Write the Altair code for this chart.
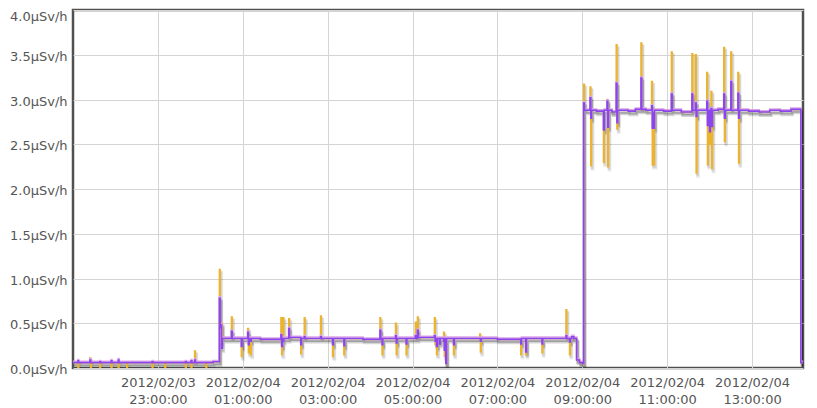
import altair as alt
import pandas as pd

# minutes after 2012-02-03 21:00 (UTC-naive display time)
minutes = [
    0, 7, 8, 24, 25, 26, 38, 39, 54, 55, 64, 65, 76, 77, 112, 113, 130, 131,
    159, 160, 167, 168, 172, 173, 188, 189, 198,
    207, 208, 209, 210, 211,
    224, 225, 238, 239, 247, 248, 249, 251, 252, 265,
    294, 295, 296, 297, 298, 305, 306, 322, 323, 327, 328, 350, 351,
    367, 368, 383, 384, 410, 434, 435, 437, 438, 456, 457, 458, 471, 472,
    484, 485, 487, 488, 511, 512, 513, 514, 515, 518, 519, 524, 525, 526,
    527, 528, 538, 539, 575, 576, 577, 600, 633, 634, 640, 641, 663, 664,
    697, 698, 702, 703, 705, 708, 712, 716, 720,
    722, 723, 731, 732, 733, 740, 750, 751, 755, 756, 757, 762,
    768, 769, 770, 785, 795, 803, 804, 810,
    818, 819, 820, 821, 822, 835, 846, 847, 860, 875, 876, 880, 881, 882,
    896, 897, 898, 900, 901, 902, 903, 904, 912, 920, 921, 922, 930, 931,
    940, 941, 942, 955, 970, 985, 1000, 1015, 1029, 1032,
]

purple = [
    .06, .08, .06, .09, .06, .06, .07, .06, .08, .06, .09, .06, .06, .06, .07, .06, .06, .06,
    .07, .06, .08, .06, .09, .06, .06, .06, .07,
    .78, .45, .48, .22, .33,
    .41, .33, .24, .33, .40, .26, .33, .30, .33, .32,
    .37, .24, .33, .30, .33, .44, .34, .26, .33, .35, .33, .35, .33,
    .26, .33, .25, .33, .32, .42, .33, .26, .33, .36, .28, .33, .27, .33,
    .36, .33, .42, .34, .36, .30, .33, .24, .33, .27, .33, .30, .20, .33,
    .05, .33, .26, .33, .33, .30, .33, .32, .27, .33, .18, .33, .27, .33,
    .36, .33, .29, .33, .35, .33, .09, .06, .05,
    2.96, 2.88, 3.02, 2.79, 2.88, 2.87, 2.66, 2.88, 2.98, 2.69, 2.88, 2.86,
    3.18, 2.74, 2.88, 2.87, 2.89, 3.24, 2.89, 2.88,
    2.93, 2.68, 2.85, 2.68, 2.88, 2.87, 3.06, 2.88, 2.86, 3.06, 2.88, 2.96, 2.81, 2.88,
    2.98, 2.71, 2.88, 2.64, 2.88, 2.90, 2.70, 2.88, 2.89, 3.06, 2.79, 2.88, 3.20, 2.88,
    3.07, 2.79, 2.88, 2.87, 2.86, 2.88, 2.87, 2.89, .06, .06,
]

orange = [
    .06, .00, .06, .11, .00, .06, .00, .06, .00, .06, .00, .06, .00, .06, .00, .06, .00, .06,
    .00, .06, .00, .06, .19, .06, .00, .06, .07,
    1.10, .35, .28, .50, .33,
    .57, .33, .13, .33, .44, .17, .33, .15, .33, .32,
    .56, .15, .33, .56, .33, .55, .34, .16, .33, .56, .33, .58, .33,
    .13, .33, .15, .33, .32, .56, .33, .15, .33, .50, .15, .33, .15, .33,
    .51, .33, .57, .34, .56, .26, .33, .15, .33, .30, .33, .40, .13, .33,
    .05, .33, .15, .33, .38, .18, .33, .32, .15, .33, .15, .33, .17, .33,
    .65, .33, .15, .33, .35, .33, .09, .06, .05,
    3.17, 2.88, 3.14, 2.26, 2.88, 2.87, 2.30, 2.88, 3.00, 2.25, 2.88, 2.86,
    3.61, 2.67, 2.88, 2.87, 2.89, 3.63, 2.89, 2.88,
    3.20, 2.27, 2.85, 2.27, 2.88, 2.87, 3.53, 2.88, 2.86, 3.51, 2.88, 3.50, 2.18, 2.88,
    3.30, 2.27, 2.88, 2.50, 2.88, 3.09, 2.23, 2.88, 2.89, 3.58, 2.53, 2.88, 3.53, 2.88,
    3.30, 2.29, 2.88, 2.87, 2.86, 2.88, 2.87, 2.89, .06, .06,
]

x_ticks = [
    "2012-02-03T23:00:00Z", "2012-02-04T01:00:00Z", "2012-02-04T03:00:00Z",
    "2012-02-04T05:00:00Z", "2012-02-04T07:00:00Z", "2012-02-04T09:00:00Z",
    "2012-02-04T11:00:00Z", "2012-02-04T13:00:00Z",
]
y_ticks = [0.0, 0.5, 1.0, 1.5, 2.0, 2.5, 3.0, 3.5, 4.0]
x_start = "2012-02-03T21:00:00Z"
x_end = "2012-02-04T14:12:00Z"

start = pd.Timestamp(x_start)
times = [(start + pd.Timedelta(minutes=m)).strftime("%Y-%m-%dT%H:%M:%SZ") for m in minutes]
df = pd.DataFrame({"time": times, "purple": purple, "orange": orange})

def ms(s):
    return int(pd.Timestamp(s).value // 10**6)

xscale = alt.Scale(type="utc", domain=[ms(x_start), ms(x_end)])
yscale = alt.Scale(domain=[0, 4])

FONT = "DejaVu Sans"
xaxis = alt.Axis(
    values=[ms(t) for t in x_ticks],
    labelExpr="[utcFormat(datum.value, '%Y/%m/%d'), utcFormat(datum.value, '%H:%M:%S')]",
    title=None, ticks=False, domain=False, grid=True, gridColor="#d4d4d4",
    labelFont=FONT, labelFontSize=13, labelColor="#555555", labelPadding=8,
    labelLineHeight=17, labelFlush=False, labelOverlap=False,
)
yaxis = alt.Axis(
    values=y_ticks,
    labelExpr="format(datum.value, '.1f') + 'µSv/h'",
    title=None, ticks=False, domain=False, grid=True, gridColor="#d4d4d4",
    labelFont=FONT, labelFontSize=13, labelColor="#555555", labelPadding=6,
    labelOffset={"condition": {"test": "datum.value >= 4", "value": 6}, "value": 1.5},
    labelFlush=False,
)

base = alt.Chart(df)

def layer(field, color, width, opacity=1.0, dx=0.0, dy=0.0):
    return base.mark_line(
        interpolate="step-after", color=color, strokeWidth=width,
        opacity=opacity, xOffset=dx, yOffset=dy, clip=True,
    ).encode(
        x=alt.X("time:T", scale=xscale, axis=xaxis, title=None),
        y=alt.Y(f"{field}:Q", scale=yscale, axis=yaxis, title=None),
    )

chart = alt.layer(
    layer("orange", "#000000", 3, 0.07, 1.5, 3.5),
    layer("orange", "#000000", 2.5, 0.10, 1.0, 2.2),
    layer("purple", "#000000", 3, 0.10, 1.5, 3.5),
    layer("purple", "#000000", 2.5, 0.16, 1.0, 2.2),
    layer("orange", "#ecb32e", 1.6),
    layer("purple", "#dca6e6", 1.8, 1.0, 0.0, -1.2),
    layer("purple", "#8a45ef", 1.6),
).properties(
    width=730, height=358,
    autosize=alt.AutoSizeParams(type="none"),
    padding={"left": 65, "top": 2, "right": 6, "bottom": 40},
    background="white",
).configure_view(
    stroke="#505050", strokeWidth=2.5,
)

chart.save("out.html", embed_options={"renderer": "svg", "actions": False})
